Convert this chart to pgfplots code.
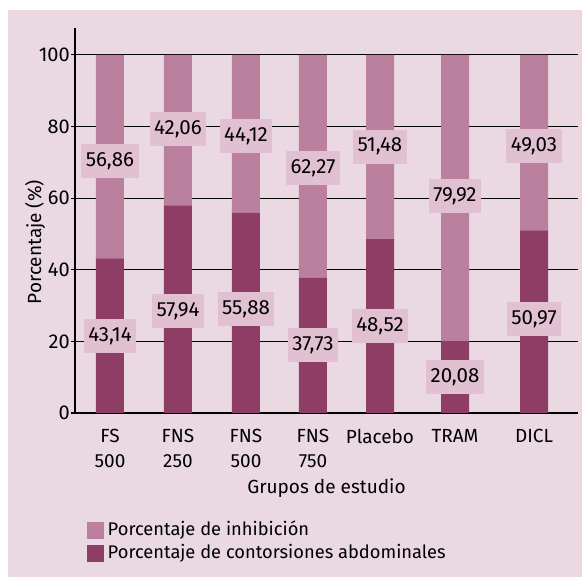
\documentclass[border=0pt]{standalone}
\usepackage{pgfplots}
\pgfplotsset{compat=1.18}
\usepackage{fontspec}
\setmainfont{Fira Sans}
\definecolor{bgc}{HTML}{EAD9E2}
\definecolor{lightbar}{HTML}{BA809E}
\definecolor{darkbar}{HTML}{8E3D64}
\definecolor{boxc}{HTML}{E0C0D1}
\pgfplotstableread{
x dark light
110 43.14 56.86
178 57.94 42.06
246 55.88 44.12
313 37.73 62.27
380 48.52 51.48
455 20.08 79.92
534 50.97 49.03
}\bars
\pgfplotstableread{
x y lab
110 70.4 56,86
178 79.3 42,06
246 77.4 44,12
313 68.4 62,27
380 74.4 51,48
455 60.6 79,92
534 74.6 49,03
110 21.4 43,14
178 28.4 57,94
246 29.0 55,88
313 18.9 37,73
380 24.2 48,52
455 10.0 20,08
534 26.3 50,97
}\labs
\pgfplotsset{
  frame/.style={width=503pt, height=385pt, scale only axis,
    xmin=75, xmax=578, ymin=0, ymax=107.5,
    at={(0pt,0pt)}, anchor=south west},
}
\begin{document}
\fontsize{19}{23}\selectfont
\begin{tikzpicture}
\fill[white] (-75pt,-164pt) rectangle (507pt,413pt);
\fill[bgc] (-67pt,-164pt) rectangle (507pt,403pt);
\begin{axis}[frame,
  axis x line*=bottom, axis y line*=left,
  axis line style={line width=1.2pt, black, -},
  ytick={0,20,...,100},
  ymajorgrids, grid style={black, line width=1.2pt},
  xtick={110,178,246,313,380,455,534},
  xticklabels={{FS\\500},{FNS\\250},{FNS\\500},{FNS\\750},Placebo,TRAM,DICL},
  xticklabel style={font=\fontsize{19}{25}\selectfont, align=center, anchor=north, inner sep=0pt, yshift=-12pt},
  x tick style={draw=none},
  y tick style={black, line width=1.2pt},
  tick align=outside, major tick length=4pt,
  yticklabel style={font=\fontsize{20}{24}\selectfont, anchor=east, inner sep=1pt},
  /pgf/number format/assume math mode=true,
  ybar stacked, bar width=28,
  xlabel={Grupos de estudio},
  xlabel style={font=\fontsize{19}{23}\selectfont, at={(axis description cs:0.5,-0.195)}, anchor=center},
  ylabel={Porcentaje (\%)},
  ylabel style={font=\fontsize{19}{23}\selectfont, at={(axis description cs:-0.0795,0.444)}, anchor=center, rotate=0},
  legend style={at={(axis description cs:0.0239,-0.275)}, anchor=north west, draw=none, fill=none,
    inner sep=0pt, row sep=0pt, font=\fontsize{18.3}{23}\selectfont,
    nodes={inner ysep=2pt, inner xsep=3.5pt, text height=14pt, text depth=5pt}},
  legend cell align=left,
  reverse legend,
  legend image code/.code={\fill[#1,draw=none] (0pt,-8.5pt) rectangle (17pt,8.5pt);},
]
\addplot[fill=darkbar, draw=none] table[x=x, y=dark] {\bars};
\addplot[fill=lightbar, draw=none] table[x=x, y=light] {\bars};
\legend{Porcentaje de contorsiones abdominales, Porcentaje de inhibición}
\end{axis}
\begin{axis}[frame, hide axis]
\addplot[only marks, mark=none, nodes near coords, point meta=explicit symbolic,
  every node near coord/.append style={anchor=center, fill=boxc, inner xsep=4.5pt, inner ysep=0pt,
    minimum height=34pt, font=\fontsize{20.5}{24}\selectfont, text=black}]
  table[x=x, y=y, meta=lab] {\labs};
\end{axis}
\end{tikzpicture}
\end{document}
